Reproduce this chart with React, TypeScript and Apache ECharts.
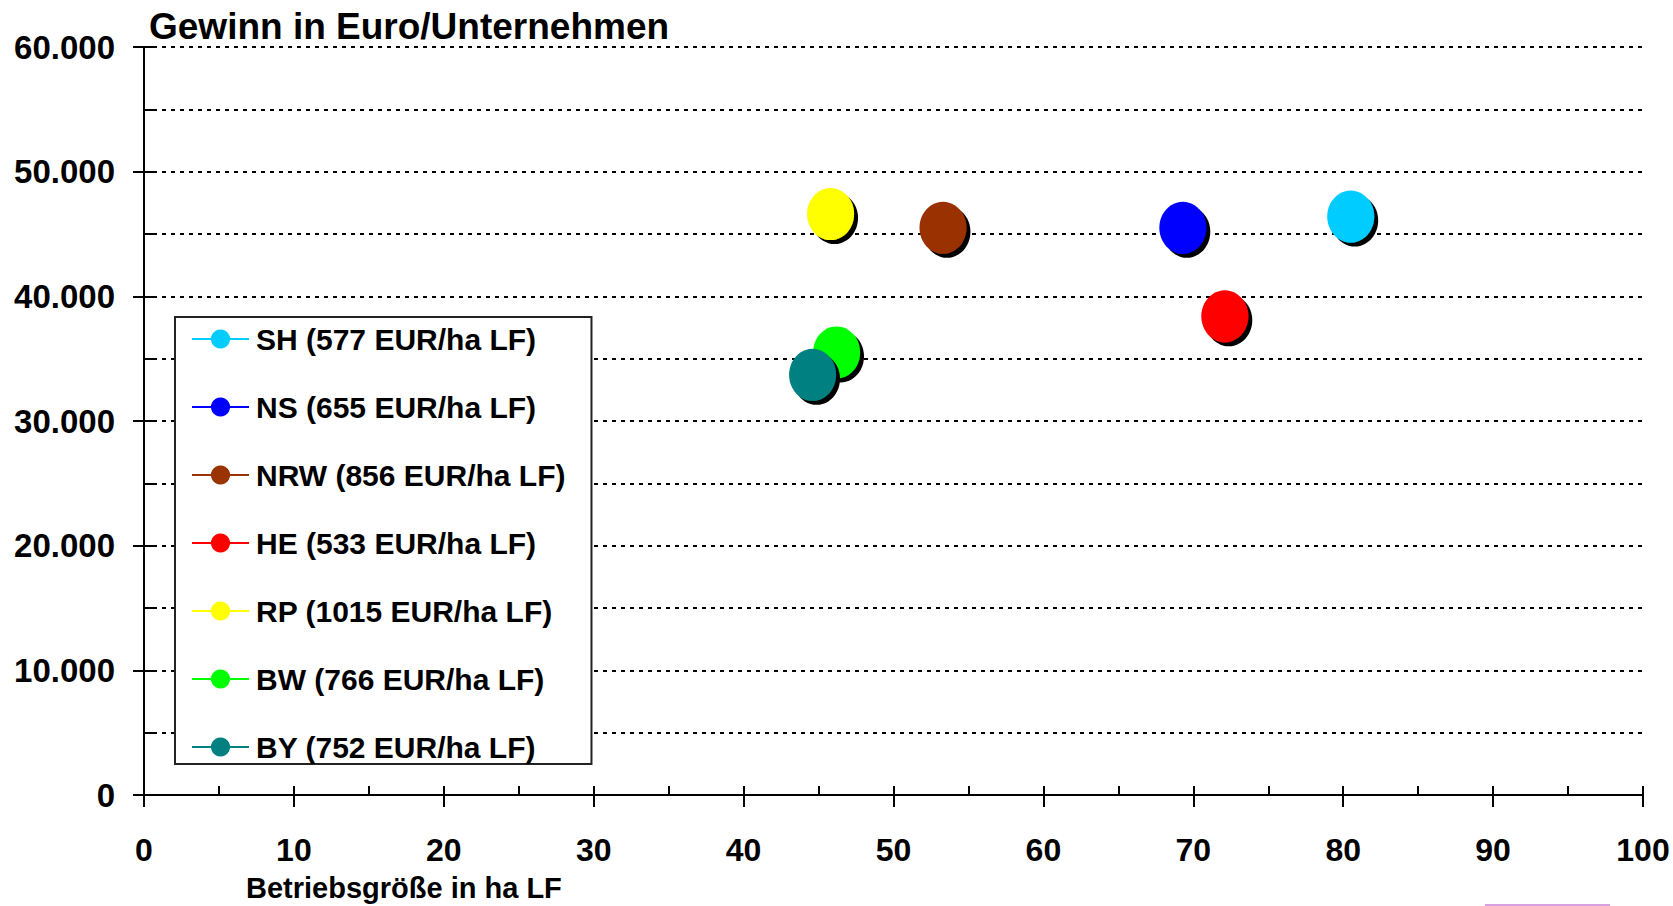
import React, { useEffect, useRef } from 'react';
import * as echarts from 'echarts';

const regions = [
  'SH (577 EUR/ha LF)',
  'NS (655 EUR/ha LF)',
  'NRW (856 EUR/ha LF)',
  'HE (533 EUR/ha LF)',
  'RP (1015 EUR/ha LF)',
  'BW (766 EUR/ha LF)',
  'BY (752 EUR/ha LF)',
];
const colors = ['#00CCFF', '#0000FF', '#993300', '#FF0000', '#FFFF00', '#00FF00', '#008080'];
const farmSize = [80.5, 69.3, 53.3, 72.1, 45.8, 46.2, 44.6];
const profit = [46400, 45500, 45500, 38400, 46600, 35500, 33700];

const titleText = 'Gewinn in Euro/Unternehmen';
const xAxisTitle = 'Betriebsgröße in ha LF';

const FONT = "'Liberation Sans', Arial, sans-serif";

function fmtY(v: number): string {
  if (v === 0) return '0';
  if (v % 10000 !== 0) return '';
  return String(v / 1000) + '.000';
}

export default function App() {
  const ref = useRef<HTMLDivElement>(null);
  useEffect(() => {
    const chart = echarts.init(ref.current!, null, { renderer: 'svg' });
    const series = regions.map((name, i) => ({
      name,
      type: 'line',
      data: [[farmSize[i], profit[i]]],
      symbol: 'circle',
      symbolSize: [47, 52],
      showSymbol: true,
      showAllSymbol: true,
      itemStyle: {
        color: colors[i],
        shadowColor: '#000',
        shadowBlur: 0,
        shadowOffsetX: 4,
        shadowOffsetY: 4,
      },
      lineStyle: { color: colors[i], width: 2 },
      emphasis: { disabled: true },
      z: 3,
    }));
    chart.setOption({
      animation: false,
      backgroundColor: '#fff',
      title: {
        text: titleText,
        left: 149,
        top: 8,
        padding: 0,
        textStyle: { fontFamily: FONT, fontWeight: 'bold', fontSize: 37, color: '#000' },
      },
      grid: { left: 144, right: 30, top: 47, bottom: 111, containLabel: false },
      legend: {
        orient: 'vertical',
        left: 175,
        top: 317,
        padding: [7, 26, 2, 16],
        itemWidth: 57,
        itemHeight: 24,
        itemGap: 38,
        backgroundColor: '#fff',
        borderColor: '#222',
        borderWidth: 2,
        selectedMode: false,
        data: regions,
        textStyle: {
          fontFamily: FONT,
          fontWeight: 'bold',
          fontSize: 30,
          lineHeight: 24,
          color: '#000',
          padding: [0, 0, 0, 2],
        },
        itemStyle: { shadowBlur: 0, shadowOffsetX: 0, shadowOffsetY: 0, shadowColor: 'rgba(0,0,0,0)' },
        lineStyle: { width: 2 },
        z: 10,
      },
      xAxis: [
        {
          type: 'value',
          min: 0,
          max: 100,
          interval: 5,
          position: 'bottom',
          axisLine: { show: true, onZero: false, lineStyle: { color: '#000', width: 2 } },
          axisTick: { show: true, inside: true, length: 9, lineStyle: { color: '#000', width: 2 } },
          axisLabel: { show: false },
          splitLine: { show: false },
        },
        {
          type: 'value',
          min: 0,
          max: 100,
          interval: 10,
          position: 'bottom',
          axisLine: { show: true, onZero: false, lineStyle: { color: '#000', width: 2 } },
          axisTick: { show: true, inside: false, length: 12, lineStyle: { color: '#000', width: 2 } },
          axisLabel: {
            show: true,
            margin: 39,
            fontFamily: FONT,
            fontWeight: 'bold',
            fontSize: 32,
            color: '#000',
          },
          splitLine: { show: false },
        },
      ],
      yAxis: [
        {
          type: 'value',
          min: 0,
          max: 60000,
          interval: 5000,
          position: 'left',
          axisLine: { show: true, onZero: false, lineStyle: { color: '#000', width: 2 } },
          axisTick: { show: true, inside: true, length: 9, lineStyle: { color: '#000', width: 2 } },
          axisLabel: { show: false },
          splitLine: { show: true, lineStyle: { color: '#000', width: 2, type: [4, 5] } },
        },
        {
          type: 'value',
          min: 0,
          max: 60000,
          interval: 10000,
          position: 'left',
          axisLine: { show: true, onZero: false, lineStyle: { color: '#000', width: 2 } },
          axisTick: { show: true, inside: false, length: 11, lineStyle: { color: '#000', width: 2 } },
          axisLabel: {
            show: true,
            margin: 29,
            formatter: fmtY,
            fontFamily: FONT,
            fontWeight: 'bold',
            fontSize: 33,
            color: '#000',
          },
          splitLine: { show: false },
        },
      ],
      graphic: [
        {
          type: 'text',
          left: 246,
          top: 873,
          style: { text: xAxisTitle, fontFamily: FONT, fontWeight: 'bold', fontSize: 29, fill: '#000' },
        },
        {
          type: 'line',
          shape: { x1: 1485, y1: 905, x2: 1610, y2: 905 },
          style: { stroke: '#d8a0e0', lineWidth: 2 },
        },
      ],
      series,
    });
    return () => chart.dispose();
  }, []);
  return <div ref={ref} style={{ position: 'fixed', left: 0, top: 0, width: 1673, height: 906 }} />;
}
